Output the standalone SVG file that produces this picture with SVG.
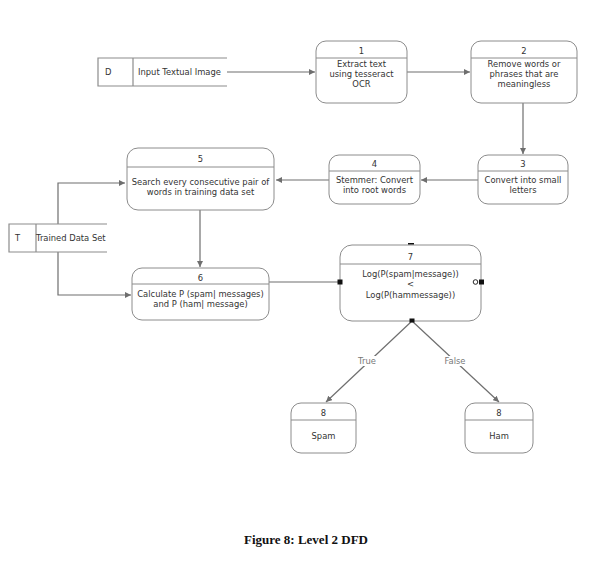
<svg xmlns="http://www.w3.org/2000/svg" width="591" height="576" viewBox="0 0 591 576">
  <style>
    .box { fill: #ffffff; stroke: #8c8c8c; stroke-width: 1; }
    .div { stroke: #8c8c8c; stroke-width: 1; fill: none; }
    .store { stroke: #8c8c8c; stroke-width: 1.2; fill: none; }
    .t { font-family: "DejaVu Sans", Verdana, sans-serif; font-size: 8.4px; fill: #333333; text-anchor: middle; }
    .ts { font-family: "DejaVu Sans", Verdana, sans-serif; font-size: 8.4px; fill: #333333; }
    .lbl { font-family: "DejaVu Sans", Verdana, sans-serif; font-size: 8.4px; fill: #777777; text-anchor: middle; }
    .flow { stroke: #6e6e6e; stroke-width: 1.2; fill: none; }
    .cap { font-family: "Liberation Serif", "Times New Roman", serif; font-size: 13px; font-weight: bold; fill: #111111; }
  </style>
  <defs>
    <marker id="arr" viewBox="0 0 10 10" refX="10" refY="5" markerWidth="6" markerHeight="6" orient="auto" markerUnits="userSpaceOnUse">
      <path d="M0,0 L10,5 L0,10 z" fill="#6e6e6e"/>
    </marker>
  </defs>
  <rect width="591" height="576" fill="#ffffff"/>

  <!-- connectors -->
  <g id="connectors">
    <line class="flow" x1="227" y1="72" x2="315" y2="72" marker-end="url(#arr)"/>
    <line class="flow" x1="407" y1="72" x2="470" y2="72" marker-end="url(#arr)"/>
    <line class="flow" x1="523" y1="103" x2="523" y2="154" marker-end="url(#arr)"/>
    <line class="flow" x1="478" y1="180" x2="421" y2="180" marker-end="url(#arr)"/>
    <line class="flow" x1="329" y1="180" x2="276" y2="180" marker-end="url(#arr)"/>
    <line class="flow" x1="200" y1="210" x2="200" y2="267" marker-end="url(#arr)"/>
    <polyline class="flow" points="58,224 58,183 125,183" marker-end="url(#arr)"/>
    <polyline class="flow" points="58,252 58,295 131,295" marker-end="url(#arr)"/>
    <line class="flow" x1="269" y1="282" x2="338" y2="282"/>
    <line class="flow" x1="412" y1="321" x2="326" y2="402" marker-end="url(#arr)"/>
    <line class="flow" x1="412" y1="321" x2="499" y2="402" marker-end="url(#arr)"/>
    <rect x="355" y="356" width="25" height="10" fill="#ffffff"/>
    <text class="lbl" x="367" y="364">True</text>
    <rect x="442" y="356" width="27" height="10" fill="#ffffff"/>
    <text class="lbl" x="455" y="364">False</text>
  </g>

  <!-- data store D -->
  <g id="store-d">
    <polyline class="store" points="227,58 98,58 98,86 227,86"/>
    <line class="store" x1="133" y1="58" x2="133" y2="86"/>
    <text class="ts" x="105" y="75">D</text>
    <text class="ts" x="138" y="75">Input Textual Image</text>
  </g>

  <!-- data store T -->
  <g id="store-t">
    <polyline class="store" points="107,224 9,224 9,252 107,252"/>
    <line class="store" x1="36" y1="224" x2="36" y2="252"/>
    <text class="ts" x="15" y="241">T</text>
    <text class="ts" x="36" y="241">Trained Data Set</text>
  </g>

  <!-- process 1 -->
  <g id="p1">
    <rect class="box" x="316" y="41" width="91" height="62" rx="10"/>
    <line class="div" x1="316" y1="58" x2="407" y2="58"/>
    <text class="t" x="361.5" y="54">1</text>
    <text class="t" x="361.5" y="67">Extract text</text>
    <text class="t" x="361.5" y="77">using tesseract</text>
    <text class="t" x="361.5" y="87">OCR</text>
  </g>

  <!-- process 2 -->
  <g id="p2">
    <rect class="box" x="471" y="41" width="106" height="62" rx="10"/>
    <line class="div" x1="471" y1="58" x2="577" y2="58"/>
    <text class="t" x="524" y="54">2</text>
    <text class="t" x="524" y="67">Remove words or</text>
    <text class="t" x="524" y="77">phrases that are</text>
    <text class="t" x="524" y="87">meaningless</text>
  </g>

  <!-- process 3 -->
  <g id="p3">
    <rect class="box" x="478" y="155" width="90" height="49" rx="10"/>
    <line class="div" x1="478" y1="171" x2="568" y2="171"/>
    <text class="t" x="523" y="167">3</text>
    <text class="t" x="523" y="183">Convert into small</text>
    <text class="t" x="523" y="193">letters</text>
  </g>

  <!-- process 4 -->
  <g id="p4">
    <rect class="box" x="329" y="155" width="91" height="49" rx="10"/>
    <line class="div" x1="329" y1="171" x2="420" y2="171"/>
    <text class="t" x="374.5" y="167">4</text>
    <text class="t" x="374.5" y="183">Stemmer: Convert</text>
    <text class="t" x="374.5" y="193">into root words</text>
  </g>

  <!-- process 5 -->
  <g id="p5">
    <rect class="box" x="127" y="148" width="147" height="62" rx="11"/>
    <line class="div" x1="127" y1="167" x2="274" y2="167"/>
    <text class="t" x="200.5" y="162">5</text>
    <text class="t" x="200.5" y="185">Search every consecutive pair of</text>
    <text class="t" x="200.5" y="195">words in training data set</text>
  </g>

  <!-- process 6 -->
  <g id="p6">
    <rect class="box" x="132" y="268" width="137" height="52" rx="10"/>
    <line class="div" x1="132" y1="284" x2="269" y2="284"/>
    <text class="t" x="200.5" y="281">6</text>
    <text class="t" x="200.5" y="297">Calculate P (spam| messages)</text>
    <text class="t" x="200.5" y="307">and P (ham| message)</text>
  </g>

  <!-- process 7 -->
  <g id="p7">
    <rect class="box" x="340" y="245" width="141" height="76" rx="12"/>
    <line class="div" x1="340" y1="264" x2="481" y2="264"/>
    <text class="t" x="410.5" y="260">7</text>
    <text class="t" x="410.5" y="277">Log(P(spam|message))</text>
    <text class="t" x="410.5" y="287">&lt;</text>
    <text class="t" x="410.5" y="298">Log(P(hammessage))</text>
    <rect x="408" y="243" width="6" height="1.5" fill="#111111"/>
    <rect x="337.5" y="279.5" width="5" height="5" fill="#111111"/>
    <rect x="479" y="279.5" width="5" height="5" fill="#111111"/>
    <circle cx="475.5" cy="282" r="2.3" fill="#ffffff" stroke="#111111" stroke-width="0.9"/>
    <rect x="409.5" y="318.5" width="5" height="4" fill="#111111"/>
  </g>

  <!-- outcome spam -->
  <g id="p8-spam">
    <rect class="box" x="291" y="403" width="65" height="50" rx="10"/>
    <line class="div" x1="291" y1="420" x2="356" y2="420"/>
    <text class="t" x="323.5" y="416">8</text>
    <text class="t" x="323.5" y="439">Spam</text>
  </g>

  <!-- outcome ham -->
  <g id="p8-ham">
    <rect class="box" x="465" y="403" width="68" height="50" rx="10"/>
    <line class="div" x1="465" y1="420" x2="533" y2="420"/>
    <text class="t" x="499" y="416">8</text>
    <text class="t" x="499" y="439">Ham</text>
  </g>

  <text class="cap" x="244" y="544">Figure 8: Level 2 DFD</text>
</svg>
